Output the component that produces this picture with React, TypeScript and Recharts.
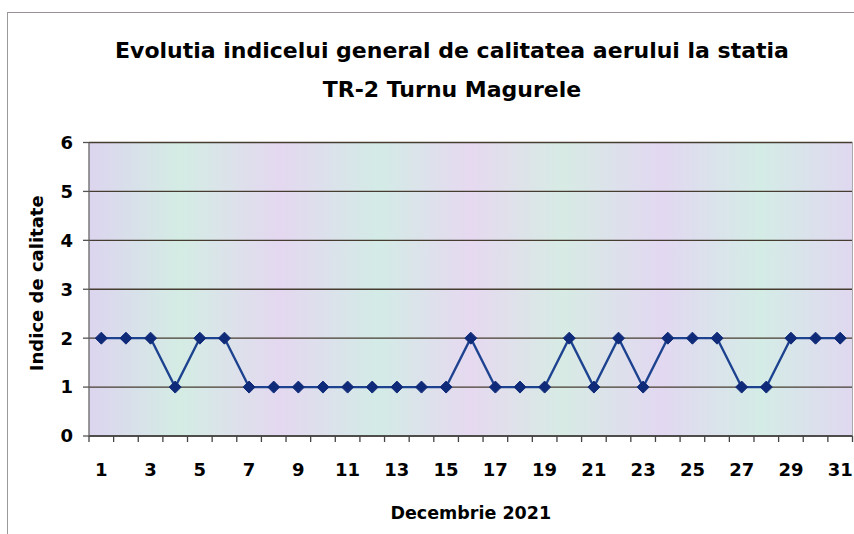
import React from 'react';
import { LineChart, Line, XAxis, YAxis, CartesianGrid, ReferenceLine } from 'recharts';

const days = Array.from({ length: 31 }, (_, i) => i + 1);
const indexValues = [2, 2, 2, 1, 2, 2, 1, 1, 1, 1, 1, 1, 1, 1, 1, 2, 1, 1, 1, 2, 1, 2, 1, 2, 2, 2, 1, 1, 2, 2, 2];
const xTicks = [1, 3, 5, 7, 9, 11, 13, 15, 17, 19, 21, 23, 25, 27, 29, 31];
const yTicks = [0, 1, 2, 3, 4, 5, 6];

const data = days.map((d, i) => ({ day: d, value: indexValues[i] }));

const W = 854;
const H = 534;
const FONT = '"DejaVu Sans", Verdana, sans-serif';
const PLOT_LEFT = 89;
const PLOT_RIGHT = 852.5;
const BAND = (PLOT_RIGHT - PLOT_LEFT) / 31;

const Diamond = (props: any) => {
  const { cx, cy } = props;
  if (cx == null || cy == null) return null;
  const r = 6;
  return (
    <polygon
      points={`${cx},${cy - r} ${cx + r},${cy} ${cx},${cy + r} ${cx - r},${cy}`}
      fill="#0f2a78"
      stroke="#0f2a78"
      strokeWidth={1}
    />
  );
};

const XTick = (props: any) => {
  const { x, y, payload } = props;
  const axisY = y - 22;
  return (
    <g>
      <line x1={x - BAND / 2} x2={x - BAND / 2} y1={axisY} y2={axisY + 6} stroke="#444" strokeWidth={1.3} />
      <line x1={x + BAND / 2} x2={x + BAND / 2} y1={axisY} y2={axisY + 6} stroke="#444" strokeWidth={1.3} />
      <text x={x} y={y + 17.5} textAnchor="middle" fontFamily={FONT} fontWeight="bold" fontSize={18} fill="#000">
        {payload.value}
      </text>
    </g>
  );
};

const YTitle = (props: any) => {
  const { viewBox } = props;
  const cy = viewBox.y + viewBox.height / 2 - 6;
  const cx = 42.5;
  return (
    <text
      x={cx}
      y={cy}
      transform={`rotate(-90, ${cx}, ${cy})`}
      textAnchor="middle"
      fontFamily={FONT}
      fontWeight="bold"
      fontSize={18}
      fill="#000"
    >
      Indice de calitate
    </text>
  );
};

export default function App() {
  return (
    <div style={{ position: 'absolute', left: 0, top: 0, width: W, height: H, background: '#fff', overflow: 'hidden' }}>
      <div
        style={{
          position: 'absolute',
          left: 7,
          top: 12,
          width: W,
          height: H,
          borderLeft: '1.5px solid #9a9a9a',
          borderTop: '1.5px solid #9a8f9a',
        }}
      />
      <div
        style={{
          position: 'absolute',
          left: 0,
          top: 31,
          width: 904,
          textAlign: 'center',
          fontFamily: FONT,
          fontWeight: 'bold',
          fontSize: 22,
          lineHeight: '39px',
          color: '#000',
        }}
      >
        Evolutia indicelui general de calitatea aerului la statia
        <br />
        TR-2 Turnu Magurele
      </div>
      <LineChart
        width={W}
        height={H}
        data={data}
        margin={{ top: 142.5, right: W - PLOT_RIGHT, bottom: 0, left: 0 }}
        style={{ position: 'absolute', left: 0, top: 0 }}
      >
        <defs>
          <linearGradient id="bgTex" x1="0" y1="0" x2="1" y2="0">
            <stop offset="0%" stopColor="#dcd5ef" />
            <stop offset="12%" stopColor="#d4ece4" />
            <stop offset="25%" stopColor="#e4d8f0" />
            <stop offset="38%" stopColor="#d3ebe6" />
            <stop offset="50%" stopColor="#e6d9f0" />
            <stop offset="62%" stopColor="#d7ebe4" />
            <stop offset="75%" stopColor="#e2d8f1" />
            <stop offset="88%" stopColor="#d4ece6" />
            <stop offset="100%" stopColor="#e0d8f0" />
          </linearGradient>
        </defs>
        <CartesianGrid vertical={false} stroke="#463d30" strokeWidth={1.4} fill="url(#bgTex)" fillOpacity={1} />
        <XAxis
          dataKey="day"
          type="number"
          domain={[0.5, 31.5]}
          ticks={xTicks}
          interval={0}
          height={H - 436}
          tickLine={false}
          tickSize={6}
          tickMargin={16}
          axisLine={{ stroke: '#444', strokeWidth: 1.3 }}
          tick={<XTick />}
          label={{
            value: 'Decembrie 2021',
            position: 'insideBottom',
            offset: 15,
            fontFamily: FONT,
            fontWeight: 'bold',
            fontSize: 17.5,
            fill: '#000',
          }}
        />
        <YAxis
          type="number"
          domain={[0, 6]}
          ticks={yTicks}
          interval={0}
          width={PLOT_LEFT}
          tickSize={6}
          tickMargin={10}
          tickLine={{ stroke: '#555', strokeWidth: 1.3 }}
          axisLine={{ stroke: '#666', strokeWidth: 1.3 }}
          tick={{ fontFamily: FONT, fontWeight: 'bold', fontSize: 18, fill: '#000' }}
          label={<YTitle />}
        />
        <ReferenceLine x={31.5} stroke="#aaa" strokeWidth={1} />
        <Line
          type="linear"
          dataKey="value"
          stroke="#1d428f"
          strokeWidth={2.3}
          dot={<Diamond />}
          activeDot={false}
          isAnimationActive={false}
        />
      </LineChart>
    </div>
  );
}
